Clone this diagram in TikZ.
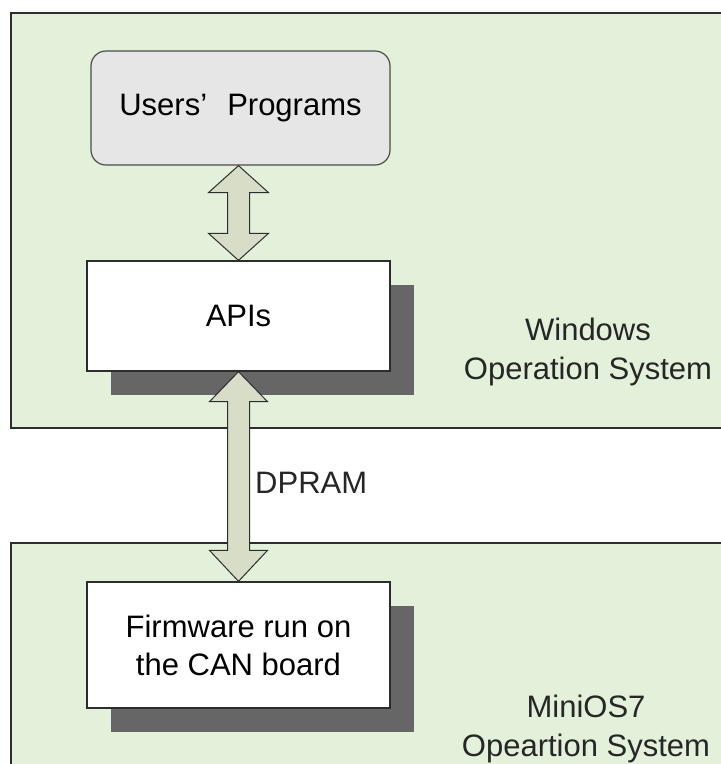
\documentclass[tikz,border=0pt]{standalone}
\usepackage{fontspec}
\setmainfont{Liberation Sans}
\usetikzlibrary{calc,shadows}
\definecolor{osgreen}{RGB}{227,241,219}
\definecolor{arrowfill}{RGB}{216,221,200}
\definecolor{shadowgray}{RGB}{102,102,102}
\definecolor{usergray}{RGB}{230,230,230}
\definecolor{edgegray}{RGB}{45,45,45}
\begin{document}
\begin{tikzpicture}[x=1pt,y=-1pt,
  osbox/.style={fill=osgreen, draw=edgegray, line width=1.5pt},
  userbox/.style={draw=edgegray!85, line width=1.2pt, fill=usergray, rounded corners=15pt,
    minimum width=299pt, minimum height=114pt, inner sep=0pt, align=center,
    font=\fontsize{31}{38}\selectfont},
  whitebox/.style={draw=edgegray, line width=1.3pt, fill=white, minimum width=303pt,
    inner sep=0pt, align=center, font=\fontsize{31}{38}\selectfont,
    drop shadow={shadow xshift=24pt, shadow yshift=-24pt, opacity=1, fill=shadowgray}},
  bigarrow/.style={fill=arrowfill, draw=edgegray, line width=1pt, line join=miter},
  ostext/.style={align=center, inner sep=0pt, font=\fontsize{31}{39}\selectfont, text=black!85},
  lbl/.style={inner sep=0pt, font=\fontsize{31}{38}\selectfont, text=black!85}
]
\useasboundingbox (0,0) rectangle (721,764);
\clip (0,0) rectangle (721,764);
\fill[white] (0,0) rectangle (721,764);
% operating system regions
\draw[osbox] (11,13) rectangle (740,428);
\draw[osbox] (11,543) rectangle (740,790);
% boxes
\node[userbox] (users) at (240.5,108) {Users’\hspace{0.65em}Programs};
\node[whitebox, minimum height=110pt] (apis) at (238.5,316) {APIs};
\node[whitebox, minimum height=126pt] (fw) at (238.5,645) {Firmware run on\\the CAN board};
% arrows
\coordinate (t1) at (apis.north |- users.south);
\draw[bigarrow] (t1) -- ++(30,27) -- ++(-19,0) -- ($(apis.north)+(11,-27)$) -- ++(19,0)
  -- (apis.north) -- ++(-30,-27) -- ++(19,0) -- ($(t1)+(-11,27)$) -- ++(-19,0) -- cycle;
\draw[bigarrow] (apis.south) -- ++(29,30) -- ++(-18,0) -- ($(fw.north)+(11,-31)$) -- ++(18,0)
  -- (fw.north) -- ++(-29,-31) -- ++(18,0) -- ($(apis.south)+(-11,30)$) -- ++(-18,0) -- cycle;
% labels
\node[lbl, anchor=west] (dpram) at (255,483) {DPRAM};
\node[ostext] (win) at (588,352) {Windows\\Operation System};
\node[ostext] (mini) at (586,729) {MiniOS7\\Opeartion System};
\end{tikzpicture}
\end{document}
